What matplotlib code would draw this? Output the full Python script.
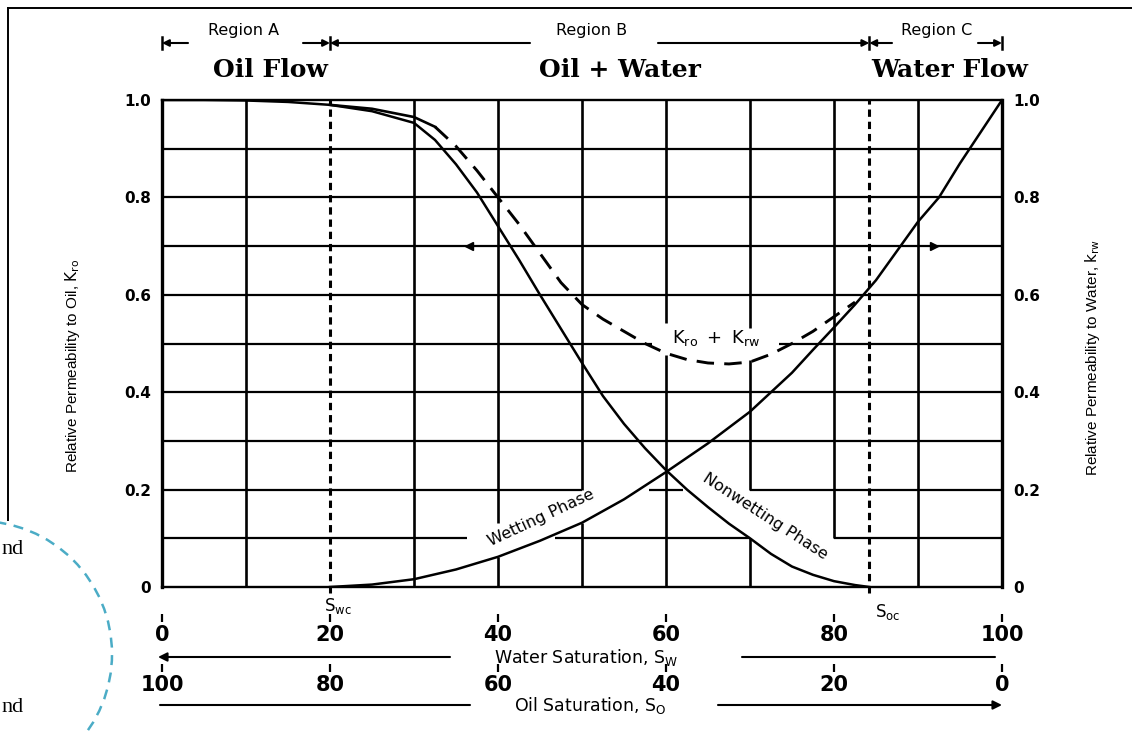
import matplotlib
matplotlib.use("Agg")
import matplotlib.pyplot as plt
from matplotlib.patches import Circle

# ---------------------------------------------------------------- data
# water saturation (%) and relative permeability to oil (nonwetting phase)
sw_oil = [0, 5, 10, 15, 20, 25, 30, 32.5, 35, 37.5, 40, 42.5, 45, 47.5, 50,
          52.5, 55, 57.5, 60, 62.5, 65, 67.5, 70, 72.5, 75, 77.5, 80, 82.5, 84.2]
k_ro = [1.0, 1.0, 0.999, 0.996, 0.99, 0.977, 0.953, 0.918, 0.868, 0.81, 0.741,
        0.672, 0.6, 0.53, 0.46, 0.392, 0.335, 0.285, 0.24, 0.2, 0.164, 0.13,
        0.1, 0.068, 0.042, 0.025, 0.012, 0.004, 0.0]

# water saturation (%) and relative permeability to water (wetting phase)
sw_water = [20, 25, 30, 35, 40, 45, 50, 55, 60, 65, 70, 72.5, 75, 77.5, 80,
            82.5, 85, 87.5, 90, 92.5, 95, 97.5, 100]
k_rw = [0.0, 0.005, 0.016, 0.036, 0.062, 0.095, 0.132, 0.18, 0.236, 0.295,
        0.36, 0.40, 0.44, 0.487, 0.533, 0.58, 0.63, 0.69, 0.75, 0.80, 0.87,
        0.935, 1.0]

# total relative permeability kro + krw
sw_total = [20, 25, 30, 32.5, 35, 37.5, 40, 42.5, 45, 47.5, 50, 52.5, 55,
            57.5, 60, 62.5, 65, 67.5, 70, 72.5, 75, 77.5, 80, 82.5]
k_total = [0.99, 0.982, 0.965, 0.945, 0.905, 0.855, 0.80, 0.745, 0.685, 0.625,
           0.58, 0.55, 0.525, 0.5, 0.48, 0.467, 0.46, 0.458, 0.462, 0.478,
           0.5, 0.525, 0.555, 0.585]

# critical saturations
sw_connate = 20.0
sw_oil_crit = 84.2

k_ticks = [0, 0.2, 0.4, 0.6, 0.8, 1.0]
k_tick_labels = ["0", "0.2", "0.4", "0.6", "0.8", "1.0"]
water_ticks = [0, 20, 40, 60, 80, 100]
water_tick_labels = ["0", "20", "40", "60", "80", "100"]
oil_ticks = [100, 80, 60, 40, 20, 0]
oil_tick_labels = ["100", "80", "60", "40", "20", "0"]

# ---------------------------------------------------------------- layout
W, H = 1132, 731
X0, X1, Y0, Y1 = 162, 1002, 100, 587       # plot box in pixels

def fy(py):
    """pixel row -> axes fraction"""
    return (Y1 - py) / (Y1 - Y0)

def sx(px):
    """pixel column -> water saturation"""
    return (px - X0) / (X1 - X0) * 100

plt.rcParams["font.family"] = ["DejaVu Sans"]
fig = plt.figure(figsize=(W / 100, H / 100), dpi=100)

# page decoration behind the chart
bg = fig.add_axes([0, 0, 1, 1], zorder=-1)
bg.set_xlim(0, W)
bg.set_ylim(H, 0)
bg.axis("off")
bg.plot([8, W], [8, 8], color="black", lw=1.4)
bg.plot([8, 8], [8, 520], color="black", lw=1.4)
bg.add_patch(Circle((-21, 654), 133, fill=False, ec="#4BACC6", lw=1.8,
                    ls=(0, (4, 3))))
for yy in (550, 707):
    bg.text(1, yy, "nd", family="Liberation Serif", fontsize=16,
            ha="left", va="center")

ax = fig.add_axes([X0 / W, 1 - Y1 / H, (X1 - X0) / W, (Y1 - Y0) / H])
ax.set_xlim(0, 100)
ax.set_ylim(0, 1)

# ---------------------------------------------------------------- grid
def spans(lo, hi, gaps):
    out, cur = [], lo
    for a, b in sorted(gaps):
        out.append((cur, a))
        cur = b
    out.append((cur, hi))
    return out

v_grid = {10: [], 30: [], 40: [(0.062, 0.131)], 50: [(0.131, 0.2)],
          60: [(0.476, 0.542)], 70: [(0.1, 0.2), (0.466, 0.532)],
          80: [(0.0, 0.1)], 90: []}
h_grid = {0.1: [(36.3, 46.8), (70, 80)], 0.2: [(50, 58), (62, 70)],
          0.3: [], 0.4: [], 0.5: [(58.3, 73.5)], 0.6: [], 0.7: [],
          0.8: [], 0.9: []}
for xv, gaps in v_grid.items():
    for a, b in spans(0, 1, gaps):
        ax.plot([xv, xv], [a, b], color="black", lw=1.9, solid_capstyle="butt")
for yv, gaps in h_grid.items():
    for a, b in spans(0, 100, gaps):
        ax.plot([a, b], [yv, yv], color="black", lw=1.6, solid_capstyle="butt")

for sp in ("left", "right"):
    ax.spines[sp].set_linewidth(2.4)
for sp in ("top", "bottom"):
    ax.spines[sp].set_linewidth(1.7)

# critical saturation lines
for xv in (sw_connate, sw_oil_crit):
    ax.plot([xv, xv], [-0.012, 1.0], color="black", lw=2.2, dashes=(2.4, 1.6),
            clip_on=False)

# ---------------------------------------------------------------- curves
ax.plot(sw_oil, k_ro, color="black", lw=1.8)
ax.plot(sw_water, k_rw, color="black", lw=1.8)
n_solid = sw_total.index(32.5) + 1
ax.plot(sw_total[:n_solid], k_total[:n_solid], color="black", lw=1.9)
ax.plot(sw_total[n_solid - 1:], k_total[n_solid - 1:], color="black", lw=2.1,
        dashes=(6, 3.5))

# axis pointers on the 0.7 line
ax.plot([36.6], [0.7], marker="<", color="black", ms=6)
ax.plot([91.9], [0.7], marker=">", color="black", ms=6)

# curve labels
ax.text(66, 0.511, r"$\mathrm{K_{ro}\ +\ K_{rw}}$", fontsize=13,
        ha="center", va="center")
ax.text(45.1, 0.142, "Wetting Phase", fontsize=11.5, rotation=25,
        ha="center", va="center", rotation_mode="anchor")
ax.text(71.8, 0.146, "Nonwetting Phase", fontsize=11.5, rotation=-33,
        ha="center", va="center", rotation_mode="anchor")

# ---------------------------------------------------------------- y axes
ax.set_yticks(k_ticks, labels=k_tick_labels, fontweight="bold", fontsize=11)
ax.tick_params(axis="y", length=0, pad=8, labelleft=True, labelright=True)
ax.tick_params(axis="x", length=0, labelbottom=False)

fig.text(72 / W, 1 - 366 / H, r"Relative Permeability to Oil, $\mathrm{K_{ro}}$",
         family="Liberation Sans", fontsize=11, rotation=90,
         ha="center", va="center")
fig.text(1093 / W, 1 - 357 / H,
         r"Relative Permeability to Water, $\mathrm{k_{rw}}$",
         family="Liberation Sans", fontsize=11, rotation=90,
         ha="center", va="center")

# ---------------------------------------------------------------- saturation scales
tr = ax.get_xaxis_transform()

sec_w = ax.secondary_xaxis(fy(614))
sec_w.set_xticks(water_ticks, labels=water_tick_labels, fontweight="bold",
                 fontsize=15)
sec_w.spines["bottom"].set_visible(False)
sec_w.tick_params(length=6, width=1.6, pad=2)

sec_o = ax.secondary_xaxis(fy(664), functions=(lambda x: 100 - x,
                                                lambda x: 100 - x))
sec_o.set_xticks(oil_ticks, labels=oil_tick_labels, fontweight="bold",
                 fontsize=15)
sec_o.spines["bottom"].set_visible(False)
sec_o.tick_params(length=6, width=1.6, pad=2)

ax.text(sx(338), fy(606), r"$\mathrm{S_{wc}}$", fontsize=12, transform=tr,
        ha="center", va="center")
ax.text(sx(888), fy(612), r"$\mathrm{S_{oc}}$", fontsize=12, transform=tr,
        ha="center", va="center")

arrow = dict(arrowstyle="-|>", color="black", lw=1.5, mutation_scale=13,
             shrinkA=0, shrinkB=0)
plain = dict(arrowstyle="-", color="black", lw=1.5, shrinkA=0, shrinkB=0)

# water saturation direction
yw = fy(657)
ax.annotate("", xy=(sx(158), yw), xytext=(sx(450), yw), xycoords=tr,
            textcoords=tr, arrowprops=arrow, annotation_clip=False)
ax.annotate("", xy=(sx(995), yw), xytext=(sx(742), yw), xycoords=tr,
            textcoords=tr, arrowprops=plain, annotation_clip=False)
ax.text(sx(586), yw, r"Water Saturation, $\mathrm{S_W}$", fontsize=12.5,
        transform=tr, ha="center", va="center")

# oil saturation direction
yo = fy(705)
ax.annotate("", xy=(sx(470), yo), xytext=(sx(160), yo), xycoords=tr,
            textcoords=tr, arrowprops=plain, annotation_clip=False)
ax.annotate("", xy=(sx(1002), yo), xytext=(sx(718), yo), xycoords=tr,
            textcoords=tr, arrowprops=arrow, annotation_clip=False)
ax.text(sx(590), yo, r"Oil Saturation, $\mathrm{S_O}$", fontsize=12.5,
        transform=tr, ha="center", va="center")

# ---------------------------------------------------------------- flow regions
yr = fy(43)
for xv in (0, sw_connate, sw_oil_crit, 100):
    ax.plot([xv, xv], [fy(37), fy(49)], color="black", lw=1.8, transform=tr,
            clip_on=False)
region_arrows = [(sx(188), 0), (sx(303), sw_connate), (sx(530), sw_connate),
                 (sx(658), sw_oil_crit), (sx(892), sw_oil_crit), (sx(978), 100)]
for start, end in region_arrows:
    ax.annotate("", xy=(end, yr), xytext=(start, yr), xycoords=tr,
                textcoords=tr, arrowprops=dict(arrow, mutation_scale=10),
                annotation_clip=False)

ax.text(sx(244), fy(31), "Region A", fontsize=11.5, transform=tr,
        ha="center", va="center")
ax.text(sx(592), fy(31), "Region B", fontsize=11.5, transform=tr,
        ha="center", va="center")
ax.text(sx(937), fy(31), "Region C", fontsize=11.5, transform=tr,
        ha="center", va="center")

for label, px in (("Oil Flow", 270), ("Oil + Water", 620), ("Water Flow", 950)):
    ax.text(sx(px), fy(70), label, family="DejaVu Serif", fontweight="bold",
            fontsize=18, transform=tr, ha="center", va="center")

fig.savefig("out.png", dpi=100)
